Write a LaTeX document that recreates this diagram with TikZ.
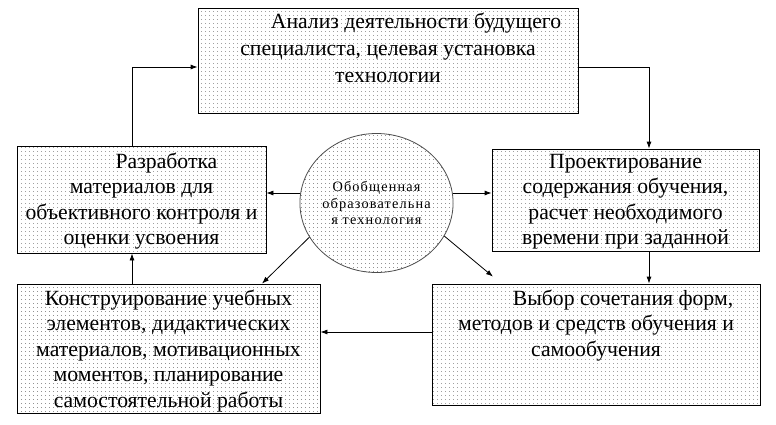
\documentclass[tikz,border=0pt]{standalone}
\usepackage{fontspec}
\setmainfont{Liberation Serif}
\newfontfamily\circfont[LetterSpace=8]{Liberation Serif}
\usetikzlibrary{patterns}
\usetikzlibrary{shapes.geometric}
\usetikzlibrary{arrows.meta}
\pgfdeclarepatternformonly{sparsedots}{\pgfpointorigin}{\pgfqpoint{4pt}{4pt}}{\pgfqpoint{4pt}{4pt}}{\pgfpathcircle{\pgfqpoint{2pt}{2pt}}{0.45pt}\pgfusepath{fill}}
\tikzset{box/.style={draw,line width=0.8pt,pattern=sparsedots,pattern color=black!75,inner sep=0pt},
 txt/.style={align=center,inner sep=0pt,anchor=north,font=\fontsize{21.7}{25.5}\selectfont},
 arr/.style={draw,line width=0.8pt,-{Latex[length=7pt,width=5pt]}},
 }

\begin{document}
\begin{tikzpicture}[x=1pt,y=-1pt]
        \fill[white] (0,0) rectangle (776,424);
        \useasboundingbox (0,0) rectangle (776,424);
        \node[box,minimum width=380pt,minimum height=105pt] (analiz) at (388,60.5) {};
        \node[box,minimum width=249pt,minimum height=107pt] (razrab) at (141.5,199.5) {};
        \node[box,minimum width=267pt,minimum height=102pt] (proekt) at (625.5,200) {};
        \node[box,minimum width=303pt,minimum height=129pt] (konstr) at (168.5,348.5) {};
        \node[box,minimum width=328pt,minimum height=121pt] (vybor) at (596,344.5) {};
        \node[box,ellipse,draw=black!70,minimum width=151pt,minimum height=139pt,
            align=center,font=\circfont\fontsize{14.3}{16.5}\selectfont] (obob) at (376.5,203)
            {Обобщенная\\образовательна\\я технология};
        \node[txt] (analiz-t) at ([yshift=-5pt]analiz.north)
            {\hspace*{56pt}Анализ деятельности будущего\\[1.5pt]специалиста, целевая установка\\[1.5pt]технологии};
        \node[txt] (razrab-t) at ([yshift=-7pt]razrab.north)
            {\hspace*{50pt}Разработка\\материалов для\\объективного контроля и\\оценки усвоения};
        \node[txt] (proekt-t) at ([yshift=-5pt]proekt.north)
            {Проектирование\\содержания обучения,\\расчет необходимого\\времени при заданной};
        \node[txt] (konstr-t) at ([yshift=-6pt]konstr.north)
            {Конструирование учебных\\элементов, дидактических\\материалов, мотивационных\\моментов, планирование\\самостоятельной работы};
        \node[txt] (vybor-t) at ([yshift=-6pt]vybor.north)
            {\hspace*{54pt}Выбор сочетания форм,\\методов и средств обучения и\\самообучения};
        \draw[arr] ([xshift=-9.5pt]razrab.north) |- ([yshift=-6.5pt]analiz.west);
        \draw[arr] ([yshift=-6.5pt]analiz.east) -| ([xshift=23.5pt]proekt.north);
        \draw[arr] ([xshift=23.5pt]proekt.south) -- ([xshift=23.5pt]proekt.south |- vybor.north);
        \draw[arr] ([yshift=12.5pt]vybor.west) -- ([yshift=12.5pt]vybor.west -| konstr.east);
        \draw[arr] ([xshift=-36.5pt]konstr.north) -- ([xshift=-36.5pt]konstr.north |- razrab.south);
        \draw[arr] ([yshift=10pt]obob.west) -- ([yshift=10pt]obob.west -| razrab.east);
        \draw[arr] ([yshift=10pt]obob.east) -- ([yshift=10pt]obob.east -| proekt.west);
        \draw[arr] (obob.207) -- ([xshift=93.5pt]konstr.north);
        \draw[arr] (obob.334) -- ([xshift=-103pt,yshift=7pt]vybor.north);
    \end{tikzpicture}
\end{document}
